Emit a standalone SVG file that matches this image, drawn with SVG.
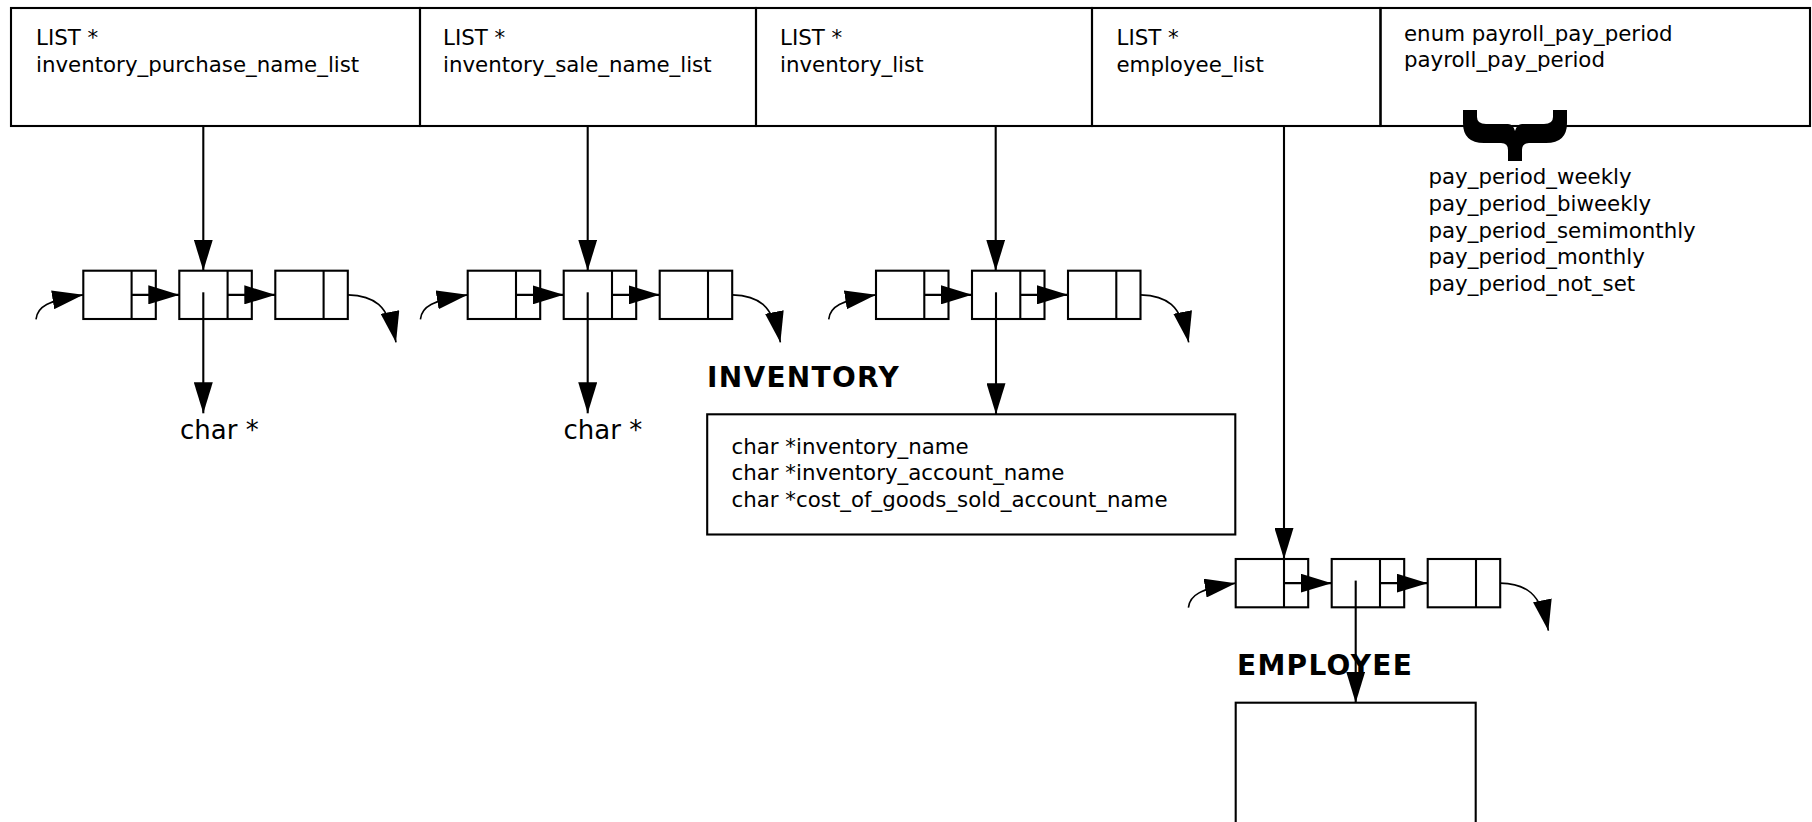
<svg xmlns="http://www.w3.org/2000/svg" width="1812" height="822" viewBox="0 0 1812 822">
<defs>
<style>
.box{fill:none;stroke:#000;stroke-width:2.1}
.t{font-family:"DejaVu Sans","Liberation Sans",sans-serif;font-size:21.33px;fill:#000}
.big{font-size:26px}
.lbl{font-family:"DejaVu Sans","Liberation Sans",sans-serif;font-weight:bold;font-size:28px;letter-spacing:1.3px;fill:#000}
.c{fill:none;stroke:#000;stroke-width:2.1;marker-end:url(#ah)}
.cv{fill:none;stroke:#000;stroke-width:1.6;marker-end:url(#ah)}
</style>
<marker id="ah" markerUnits="userSpaceOnUse" markerWidth="31" markerHeight="19" refX="31" refY="9.5" orient="auto" viewBox="0 0 31 19"><path d="M0,0 L31,9.5 L0,19 Z" fill="#000"/></marker>
</defs>
<rect width="1812" height="822" fill="#fff"/>

<g id="struct">
  <g id="f-purchase"><rect class="box" x="11" y="8" width="409" height="118"/>
    <text class="t" x="36" y="45">LIST *</text><text class="t" x="36" y="72">inventory_purchase_name_list</text></g>
  <g id="f-sale"><rect class="box" x="420" y="8" width="336" height="118"/>
    <text class="t" x="443" y="45">LIST *</text><text class="t" x="443" y="72">inventory_sale_name_list</text></g>
  <g id="f-inventory"><rect class="box" x="756" y="8" width="336" height="118"/>
    <text class="t" x="780" y="45">LIST *</text><text class="t" x="780" y="72">inventory_list</text></g>
  <g id="f-employee"><rect class="box" x="1092" y="8" width="288.5" height="118"/>
    <text class="t" x="1116.5" y="45">LIST *</text><text class="t" x="1116.5" y="72">employee_list</text></g>
  <g id="f-payperiod"><rect class="box" x="1380.5" y="8" width="429.5" height="118"/>
    <text class="t" x="1404" y="40.5">enum payroll_pay_period</text><text class="t" x="1404" y="67">payroll_pay_period</text></g>
</g>

<g id="enum-values">
  <path d="M1463,110 L1477,110 L1477,117 Q1477,124 1486,124 L1508,124 Q1513,124 1515,131 Q1517,124 1522,124 L1544,124 Q1553,124 1553,117 L1553,110 L1567,110 L1567,123 Q1567,143 1546,143 L1529,143 Q1522,143 1522,150 L1522,161 L1508,161 L1508,150 Q1508,143 1501,143 L1484,143 Q1463,143 1463,123 Z" fill="#000"/>
  <text class="t" x="1428.5" y="184">pay_period_weekly</text>
  <text class="t" x="1428.5" y="210.8">pay_period_biweekly</text>
  <text class="t" x="1428.5" y="237.6">pay_period_semimonthly</text>
  <text class="t" x="1428.5" y="264.4">pay_period_monthly</text>
  <text class="t" x="1428.5" y="291.2">pay_period_not_set</text>
</g>

<g id="purchase-list" transform="translate(83.3,270.7)">
  <g id="pl-n1"><rect class="box" x="0" y="0" width="72.5" height="48.3"/><line class="box" x1="48.3" y1="0" x2="48.3" y2="48.3"/></g>
  <g id="pl-n2"><rect class="box" x="96" y="0" width="72.5" height="48.3"/><line class="box" x1="144.3" y1="0" x2="144.3" y2="48.3"/></g>
  <g id="pl-n3"><rect class="box" x="192" y="0" width="72.5" height="48.3"/><line class="box" x1="240.3" y1="0" x2="240.3" y2="48.3"/></g>
</g>
<g id="sale-list" transform="translate(467.7,270.7)">
  <g id="sl-n1"><rect class="box" x="0" y="0" width="72.5" height="48.3"/><line class="box" x1="48.3" y1="0" x2="48.3" y2="48.3"/></g>
  <g id="sl-n2"><rect class="box" x="96" y="0" width="72.5" height="48.3"/><line class="box" x1="144.3" y1="0" x2="144.3" y2="48.3"/></g>
  <g id="sl-n3"><rect class="box" x="192" y="0" width="72.5" height="48.3"/><line class="box" x1="240.3" y1="0" x2="240.3" y2="48.3"/></g>
</g>
<g id="inventory-list" transform="translate(876,270.7)">
  <g id="il-n1"><rect class="box" x="0" y="0" width="72.5" height="48.3"/><line class="box" x1="48.3" y1="0" x2="48.3" y2="48.3"/></g>
  <g id="il-n2"><rect class="box" x="96" y="0" width="72.5" height="48.3"/><line class="box" x1="144.3" y1="0" x2="144.3" y2="48.3"/></g>
  <g id="il-n3"><rect class="box" x="192" y="0" width="72.5" height="48.3"/><line class="box" x1="240.3" y1="0" x2="240.3" y2="48.3"/></g>
</g>
<g id="employee-list" transform="translate(1235.7,559)">
  <g id="el-n1"><rect class="box" x="0" y="0" width="72.5" height="48.3"/><line class="box" x1="48.3" y1="0" x2="48.3" y2="48.3"/></g>
  <g id="el-n2"><rect class="box" x="96" y="0" width="72.5" height="48.3"/><line class="box" x1="144.3" y1="0" x2="144.3" y2="48.3"/></g>
  <g id="el-n3"><rect class="box" x="192" y="0" width="72.5" height="48.3"/><line class="box" x1="240.3" y1="0" x2="240.3" y2="48.3"/></g>
</g>

<g id="purchase-char"><text class="t big" x="180" y="438.5">char *</text></g>
<g id="sale-char"><text class="t big" x="563.5" y="438.5">char *</text></g>

<g id="inventory">
  <text class="lbl" x="707" y="386.7">INVENTORY</text>
  <rect class="box" x="707.2" y="414.3" width="528.1" height="120.2"/>
  <text class="t" x="731.5" y="453.5">char *inventory_name</text>
  <text class="t" x="731.5" y="480.1">char *inventory_account_name</text>
  <text class="t" x="731.5" y="506.7">char *cost_of_goods_sold_account_name</text>
</g>

<g id="employee">
  <text class="lbl" x="1237" y="675">EMPLOYEE</text>
  <rect class="box" x="1235.7" y="702.7" width="240" height="200"/>
</g>

<g id="connectors">
  <path class="c" d="M203.3,126 V270.7"/>
  <path class="c" d="M587.7,126 V270.7"/>
  <path class="c" d="M995.7,126 V270.7"/>
  <path class="c" d="M1284,126 V559"/>
  <g transform="translate(83.3,270.7)">
    <path class="c" d="M48.3,24.15 H96"/><path class="c" d="M144.3,24.15 H192"/>
    <path class="cv" d="M-47.3,48.6 C-46,36 -36,30 0,24.15"/>
    <path class="cv" d="M264.5,24.15 C290,25 305,33 312.7,71.7"/>
    <path class="c" d="M120,21.6 V142.6"/>
  </g>
  <g transform="translate(467.7,270.7)">
    <path class="c" d="M48.3,24.15 H96"/><path class="c" d="M144.3,24.15 H192"/>
    <path class="cv" d="M-47.3,48.6 C-46,36 -36,30 0,24.15"/>
    <path class="cv" d="M264.5,24.15 C290,25 305,33 312.7,71.7"/>
    <path class="c" d="M120,21.6 V142.6"/>
  </g>
  <g transform="translate(876,270.7)">
    <path class="c" d="M48.3,24.15 H96"/><path class="c" d="M144.3,24.15 H192"/>
    <path class="cv" d="M-47.3,48.6 C-46,36 -36,30 0,24.15"/>
    <path class="cv" d="M264.5,24.15 C290,25 305,33 312.7,71.7"/>
    <path class="c" d="M120,21.6 V143.6"/>
  </g>
  <g transform="translate(1235.7,559)">
    <path class="c" d="M48.3,24.15 H96"/><path class="c" d="M144.3,24.15 H192"/>
    <path class="cv" d="M-47.3,48.6 C-46,36 -36,30 0,24.15"/>
    <path class="cv" d="M264.5,24.15 C290,25 305,33 312.7,71.7"/>
    <path class="c" d="M120,21.6 V143.7"/>
  </g>
</g>
</svg>
